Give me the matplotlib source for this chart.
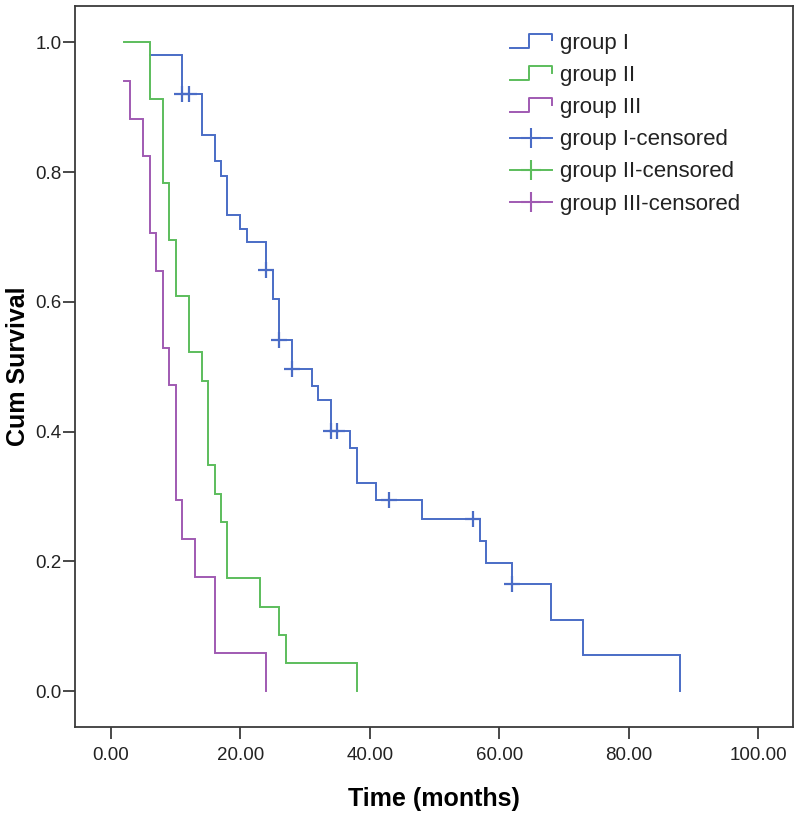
import matplotlib
matplotlib.use("Agg")
import matplotlib.pyplot as plt
from matplotlib.lines import Line2D
from matplotlib.legend_handler import HandlerBase

plt.rcParams['font.family'] = ['Liberation Sans', 'DejaVu Sans']

# ---- data ----
g1_times = [6, 11, 14, 16, 17, 18, 20, 21, 24, 25, 26, 28, 31, 32, 34, 37, 38, 41, 48, 57, 58, 62, 68, 73, 88]
g1_surv = [0.981, 0.921, 0.857, 0.817, 0.794, 0.734, 0.712, 0.692, 0.649, 0.605, 0.541, 0.496,
           0.470, 0.449, 0.401, 0.374, 0.321, 0.294, 0.265, 0.232, 0.198, 0.165, 0.110, 0.055, 0.0]
g1_cens_t = [11, 12, 24, 26, 28, 34, 35, 43, 56, 62]
g1_cens_s = [0.921, 0.921, 0.649, 0.541, 0.496, 0.401, 0.401, 0.294, 0.265, 0.165]

g2_times = [2, 6, 8, 9, 10, 12, 14, 15, 16, 17, 18, 23, 26, 27, 38]
g2_surv = [1.0, 0.913, 0.783, 0.696, 0.609, 0.522, 0.478, 0.348, 0.304, 0.261, 0.174, 0.130, 0.087, 0.043, 0.0]

g3_times = [2, 3, 5, 6, 7, 8, 9, 10, 11, 13, 16, 24]
g3_surv = [0.941, 0.882, 0.824, 0.706, 0.647, 0.529, 0.471, 0.294, 0.235, 0.176, 0.059, 0.0]

labels = ['group I', 'group II', 'group III',
          'group I-censored', 'group II-censored', 'group III-censored']
x_ticks = [0, 20, 40, 60, 80, 100]
y_ticks = [0.0, 0.2, 0.4, 0.6, 0.8, 1.0]

c_blue = '#4a6cc6'
c_green = '#5cbd5c'
c_purple = '#a05ab2'

fig = plt.figure(figsize=(8.0, 8.14), dpi=100)
ax = fig.add_axes([75 / 800, 1 - 726.7 / 814, (792.7 - 75) / 800, (726.7 - 6) / 814])

lw = 1.4
for t, s, c in [(g1_times, g1_surv, c_blue), (g2_times, g2_surv, c_green), (g3_times, g3_surv, c_purple)]:
    # step curve: level s[i-1] until t[i], then drop to s[i]
    xs = [t[0]]
    ys = [s[0]]
    for i in range(1, len(t)):
        xs += [t[i], t[i]]
        ys += [s[i - 1], s[i]]
    ax.plot(xs, ys, color=c, lw=lw, solid_joinstyle='miter')

ax.plot(g1_cens_t, g1_cens_s, linestyle='none', marker='+', markersize=11,
        markeredgewidth=1.6, color=c_blue)

ax.set_xlim(-5.56, 105.36)
ax.set_ylim(-0.055, 1.056)
ax.set_xticks(x_ticks)
ax.set_xticklabels([f'{v:.2f}' for v in x_ticks])
ax.set_yticks(y_ticks)
ax.set_yticklabels([f'{v:.1f}' for v in y_ticks])

for sp in ax.spines.values():
    sp.set_color('#3a3a3a')
    sp.set_linewidth(1.3)
ax.tick_params(axis='x', length=8.5, width=1.3, color='#3a3a3a', labelsize=13.5, pad=6, labelcolor='#222222')
ax.tick_params(axis='y', length=8.5, width=1.3, color='#3a3a3a', labelsize=13.5, pad=1, labelcolor='#222222')

ax.set_xlabel('Time (months)', fontsize=18, fontweight='bold', labelpad=17)
ax.set_ylabel('Cum Survival', fontsize=18, fontweight='bold', labelpad=4)


class StepHandler(HandlerBase):
    def create_artists(self, legend, orig_handle, xdescent, ydescent, width, height, fontsize, trans):
        fx = [0, 0.45, 0.45, 1.0, 1.0]
        fy = [0.05, 0.05, 0.95, 0.95, 0.55]
        xs = [f * width - xdescent for f in fx]
        ys = [f * height - ydescent for f in fy]
        ln = Line2D(xs, ys, color=orig_handle.get_color(), lw=lw)
        ln.set_transform(trans)
        return [ln]


h_lines = [Line2D([], [], color=c) for c in (c_blue, c_green, c_purple)]
h_cens = [Line2D([], [], color=c, lw=lw, marker='+', markersize=15, markeredgewidth=1.5)
          for c in (c_blue, c_green, c_purple)]
handler_map = {h: StepHandler() for h in h_lines}
leg = ax.legend(h_lines + h_cens, labels, handler_map=handler_map,
                loc='upper left', bbox_to_anchor=((510 - 75) / 717.7, (726.7 - 33) / 720.7),
                frameon=False, fontsize=16, handlelength=1.9, handletextpad=0.35,
                labelspacing=0.5, borderpad=0, borderaxespad=0, numpoints=1)
for txt in leg.get_texts():
    txt.set_color('#222222')

fig.savefig('out.png', dpi=100, facecolor='white')
